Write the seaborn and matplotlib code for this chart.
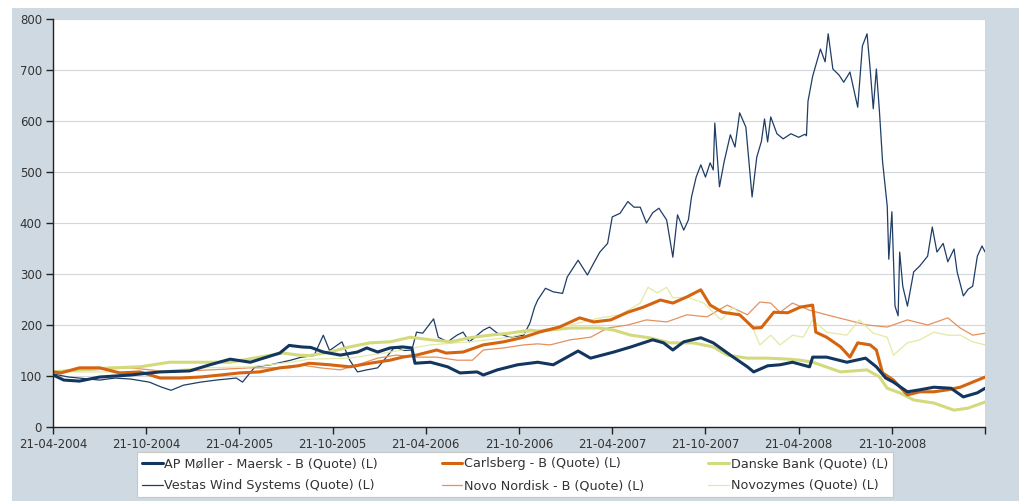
import matplotlib
matplotlib.use("Agg")
import matplotlib.pyplot as plt
from matplotlib.patches import Rectangle
import numpy as np
import pandas as pd
import seaborn as sns

# months since 21-04-2004 and index values
maersk_m = [0, 0.7, 1.7, 3, 5, 6.9, 8.8, 10.1, 11.4, 12.7, 14.6, 15.2, 16, 16.6, 17.4, 18.5,
            19.6, 20.2, 20.9, 21.7, 22.5, 23.1, 23.3, 24.3, 25.4, 26.2, 27.3, 27.7, 28.6, 29.9,
            31.2, 32.2, 33.8, 34.6, 36.1, 37.2, 38.6, 39.3, 39.9, 40.6, 41.7, 42.5, 43.6, 44.7,
            45.1, 46, 46.8, 47.6, 48.7, 48.9, 49.8, 51.1, 52.3, 53, 53.6, 54.1, 55, 55.8, 56.7,
            57.8, 58.6, 59.5, 60]
maersk_v = [102, 92, 90, 98, 102, 108, 110, 122, 133, 127, 145, 160, 157, 156, 147, 141,
            147, 155, 147, 155, 157, 155, 125, 127, 118, 106, 108, 102, 112, 122,
            127, 122, 149, 135, 147, 157, 171, 165, 151, 167, 175, 165, 141, 118,
            108, 120, 122, 127, 118, 137, 137, 127, 135, 118, 96, 88, 69, 73, 78,
            76, 59, 67, 76]

carlsberg_m = [0, 0.5, 1.7, 3, 4.3, 5.6, 6.9, 8.2, 9.5, 10.8, 12, 13.3, 14.6, 15.8, 16.5, 17.8,
               19.1, 20.4, 21.7, 22.5, 23.4, 24.7, 25.3, 26.4, 27.7, 29, 30.3, 31.3, 32.6, 33.9,
               34.8, 35.9, 37, 38, 39.1, 39.9, 40.8, 41.7, 42.3, 43.1, 44.2, 45.1, 45.6, 46.4,
               47.3, 48.1, 48.9, 49.1, 49.8, 50.7, 51.3, 51.8, 52.6, 53, 53.4, 54.1, 55, 55.8,
               56.7, 57.6, 58.4, 59.2, 60]
carlsberg_v = [108, 106, 116, 116, 106, 108, 96, 96, 98, 102, 106, 108, 116, 120, 125, 122,
               118, 125, 131, 137, 141, 151, 145, 147, 161, 167, 176, 186, 196, 214,
               206, 210, 225, 235, 249, 243, 255, 269, 239, 225, 220, 194, 195, 225,
               224, 235, 239, 186, 176, 157, 137, 165, 161, 151, 106, 92, 63, 69,
               69, 73, 78, 88, 98]

danske_m = [0, 1.7, 3.7, 5.6, 7.5, 9.5, 11.4, 13.3, 14.8, 15.8, 16.5, 17.8, 19.1, 20.4, 21.7,
            23, 24.3, 25.6, 26.8, 28.1, 29.4, 30.7, 31.3, 33.3, 35.2, 36.1, 37.2, 38.4, 39.7,
            41.2, 42.5, 43.4, 44.7, 46, 47.4, 48.1, 48.9, 50.7, 52.4, 53.2, 53.7, 54.5, 55.4,
            56.7, 58, 58.9, 60]
danske_v = [108, 112, 116, 118, 127, 127, 127, 137, 145, 141, 140, 147, 157, 165, 167,
            176, 171, 167, 175, 180, 184, 190, 188, 194, 194, 190, 180, 175, 165,
            165, 157, 141, 135, 135, 133, 131, 127, 108, 112, 98, 76, 67, 53,
            47, 33, 37, 49]

vestas_m = [0, 1, 2, 3, 4, 5, 6.2, 7, 7.6, 8.4, 9.5, 10.5, 11.8, 12.2, 13, 14, 15.3, 16, 16.8,
            17.4, 17.8, 18.6, 19.1, 19.6, 20.2, 20.9, 22, 22.6, 23.1, 23.4, 23.8, 24.5, 24.8,
            25.4, 26, 26.4, 26.8, 27.7, 28.1, 28.6, 29.4, 30.3, 30.7, 31, 31.2, 31.7, 32.2,
            32.8, 33.1, 33.8, 34.4, 34.8, 35.2, 35.7, 36, 36.5, 37, 37.4, 37.8, 38.2, 38.6,
            39, 39.5, 39.9, 40.2, 40.6, 40.9, 41.1, 41.4, 41.7, 42, 42.3, 42.5, 42.6, 42.9,
            43.2, 43.6, 43.9, 44.2, 44.6, 45, 45.3, 45.6, 45.8, 46, 46.2, 46.6, 47, 47.5, 48,
            48.4, 48.5, 48.6, 48.9, 49.2, 49.4, 49.7, 49.9, 50.2, 50.6, 50.9, 51.3, 51.8,
            52.1, 52.4, 52.6, 52.8, 53, 53.2, 53.4, 53.7, 53.8, 54, 54.2, 54.4, 54.5, 54.7,
            55, 55.4, 55.8, 56.3, 56.6, 56.9, 57.3, 57.6, 58, 58.2, 58.6, 58.9, 59.2, 59.5,
            59.8, 60]
vestas_v = [104, 98, 95, 92, 96, 94, 88, 78, 72, 82, 88, 92, 96, 88, 118, 122, 131, 137, 140,
            180, 150, 167, 131, 108, 112, 116, 157, 150, 151, 186, 184, 212, 176,
            167, 180, 186, 167, 190, 196, 184, 176, 180, 204, 235, 249, 272, 265,
            262, 294, 327, 298, 321, 343, 360, 412, 419, 442, 431, 431, 400, 420,
            429, 406, 333, 416, 386, 406, 451, 490, 514, 490, 518, 504, 596, 471,
            520, 573, 549, 616, 588, 451, 529, 560, 604, 559, 608, 575, 565, 575, 568,
            574, 571, 639, 688, 720, 741, 716, 771, 702, 690, 676, 696, 627,
            747, 771, 702, 624, 702, 618, 520, 433, 329, 422, 237, 218, 343, 276,
            237, 304, 316, 335, 392, 343, 360, 324, 349, 304, 257, 270, 276, 335,
            355, 343]

novo_m = [0, 2.4, 5, 7.5, 10.1, 12.7, 15.3, 15.9, 17.2, 18.5, 19.6, 20.9, 22.1, 23.4, 24.7,
          26, 27, 27.7, 29, 30.3, 31.2, 32, 33.3, 34.6, 35.7, 37, 38.2, 39.5, 40.8, 42.1,
          43.4, 44.7, 45.5, 46.2, 46.8, 47.6, 48.7, 49.8, 51.1, 52.4, 53.7, 55, 56.3, 57.6,
          58.4, 59.2, 60]
novo_v = [108, 112, 116, 108, 112, 116, 116, 122, 116, 112, 122, 135, 141, 137, 137,
          131, 131, 151, 155, 161, 163, 161, 171, 176, 194, 200, 210, 206, 220, 216,
          239, 220, 245, 243, 225, 243, 229, 220, 210, 200, 196, 210, 200, 214,
          194, 180, 184]

novozymes_m = [0, 3, 6.2, 9.5, 12.7, 15.3, 16.5, 19.1, 21.7, 24.3, 26.8, 29.4, 30.7, 31.3,
               33.3, 35.2, 36.5, 37.8, 38.3, 38.9, 39.5, 39.9, 40.8, 41.9, 43, 43.8, 45.1,
               45.5, 46.2, 46.8, 47.6, 48.3, 48.9, 49.8, 51.1, 51.9, 52.8, 53.7, 54.1, 55,
               55.8, 56.7, 57.6, 58.4, 59.2, 60]
novozymes_v = [108, 108, 108, 116, 118, 127, 133, 135, 147, 161, 167, 176, 186, 190,
               200, 214, 220, 243, 274, 263, 274, 253, 255, 243, 210, 235, 190,
               161, 180, 161, 180, 176, 210, 186, 180, 210, 184, 176, 141, 165,
               171, 186, 180, 180, 167, 161]

series = [
    ("Vestas Wind Systems (Quote) (L)", vestas_m, vestas_v, "#1f3d66", 0.9),
    ("Novo Nordisk - B (Quote) (L)", novo_m, novo_v, "#e3915f", 0.9),
    ("Novozymes (Quote) (L)", novozymes_m, novozymes_v, "#e4e9a4", 0.9),
    ("Danske Bank (Quote) (L)", danske_m, danske_v, "#d3da7c", 2.2),
    ("Carlsberg - B (Quote) (L)", carlsberg_m, carlsberg_v, "#d4640f", 2.2),
    ("AP Møller - Maersk - B (Quote) (L)", maersk_m, maersk_v, "#13365f", 2.2),
]
legend_order = [
    "AP Møller - Maersk - B (Quote) (L)", "Vestas Wind Systems (Quote) (L)",
    "Carlsberg - B (Quote) (L)", "Novo Nordisk - B (Quote) (L)",
    "Danske Bank (Quote) (L)", "Novozymes (Quote) (L)",
]

start = pd.Timestamp("2004-04-21")
end = pd.Timestamp("2009-04-21")
tick_dates = pd.date_range("2004-04-01", "2009-04-01", freq="6MS") + pd.Timedelta(days=20)
# the last tick (at the right edge) carries no label
tick_labels = [d.strftime("%d-%m-%Y") for d in tick_dates[:-1]] + [""]

sns.set_theme(style="white")
plt.rcParams["font.family"] = ["DejaVu Sans"]

fig = plt.figure(figsize=(10.19, 5.01), dpi=100, facecolor="white")
fig.patches.append(Rectangle((12 / 1019, 0), 1, 1 - 8 / 501, transform=fig.transFigure,
                             facecolor="#cfd9e1", edgecolor="none", zorder=-1))
ax = fig.add_axes([53 / 1019, 1 - 427 / 501, 932 / 1019, 408 / 501])
ax.set_facecolor("white")

handles = {}
for name, months, values, color, lw in series:
    dates = start + pd.to_timedelta(np.array(months) * 30.437, unit="D")
    df = pd.DataFrame({"date": dates, "value": values})
    sns.lineplot(data=df, x="date", y="value", ax=ax, color=color, linewidth=lw,
                 estimator=None, label=name, legend=False)
    handles[name] = ax.get_lines()[-1]

ax.set_xlim(start, end)
ax.set_ylim(0, 800)
ax.set_yticks(range(0, 801, 100))
ax.set_xticks(tick_dates)
ax.set_xticklabels(tick_labels)
ax.yaxis.grid(True, color="#d3d6da", linewidth=0.8)
ax.set_axisbelow(True)
ax.set_xlabel("")
ax.set_ylabel("")
for s in ["top", "right"]:
    ax.spines[s].set_visible(False)
for s in ["left", "bottom"]:
    ax.spines[s].set_color("#222222")
    ax.spines[s].set_linewidth(1.0)
ax.tick_params(axis="both", which="major", bottom=True, left=True, direction="out",
               length=5, width=1, color="#222222", labelsize=8.5, labelcolor="#333333", pad=3)

leg = fig.legend([handles[n] for n in legend_order], legend_order, ncol=3,
                 loc="upper left", bbox_to_anchor=(137 / 1019, 1 - 457 / 501, 756 / 1019, 0.01),
                 mode="expand", fontsize=9.2, frameon=True, fancybox=False, framealpha=1,
                 edgecolor="#c8c8c8", facecolor="white", handlelength=1.6, handletextpad=0.15,
                 borderpad=0.4, labelspacing=0.7, borderaxespad=0.0, columnspacing=1.0)
leg.get_frame().set_linewidth(0.8)
for t in leg.get_texts():
    t.set_color("#333333")

fig.savefig("out.png", dpi=100, facecolor="white")
